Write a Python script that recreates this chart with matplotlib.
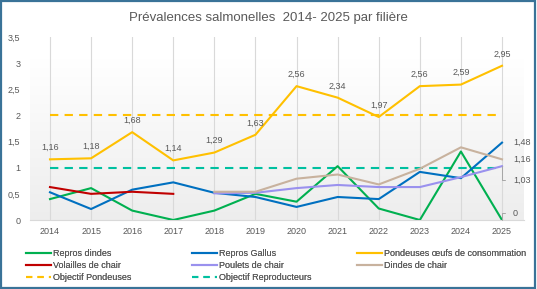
import numpy as np
import matplotlib
matplotlib.use("Agg")
import matplotlib.pyplot as plt
from matplotlib.lines import Line2D

plt.rcParams['font.family'] = ['Liberation Sans', 'DejaVu Sans']

years = [2014, 2015, 2016, 2017, 2018, 2019, 2020, 2021, 2022, 2023, 2024, 2025]
repros_dindes = [0.40, 0.61, 0.18, 0.0, 0.18, 0.50, 0.35, 1.03, 0.22, 0.0, 1.31, 0.0]
repros_gallus = [0.53, 0.21, 0.58, 0.72, 0.52, 0.44, 0.25, 0.44, 0.40, 0.92, 0.80, 1.48]
pondeuses = [1.16, 1.18, 1.68, 1.14, 1.29, 1.63, 2.56, 2.34, 1.97, 2.56, 2.59, 2.95]
volailles_years = [2014, 2015, 2016, 2017]
volailles = [0.63, 0.50, 0.54, 0.50]
poulets_years = [2018, 2019, 2020, 2021, 2022, 2023, 2024, 2025]
poulets = [0.51, 0.52, 0.61, 0.67, 0.63, 0.63, 0.82, 1.03]
dindes_years = [2018, 2019, 2020, 2021, 2022, 2023, 2024, 2025]
dindes_chair = [0.54, 0.54, 0.79, 0.87, 0.68, 0.98, 1.39, 1.16]
objectif_pondeuses = 2.0
objectif_repro = 1.0
yticks = [0, 0.5, 1, 1.5, 2, 2.5, 3, 3.5]

def fr(v):
    return ('%.2f' % v).replace('.', ',')

C_GREEN = '#00b050'
C_BLUE = '#0070c0'
C_YELLOW = '#ffc000'
C_RED = '#c00000'
C_PURPLE = '#9a91ee'
C_BROWN = '#c8b29e'
C_TEAL = '#00c0a0'
TXT = '#595959'

fig = plt.figure(figsize=(5.37, 2.89), dpi=100)
fig.patch.set_facecolor('white')
ax = fig.add_axes([30/537, 1-220/289, (524-30)/537, (220-37)/289])

x0 = 2014 - 20/41.1
x1 = 2025 + 22/41.1
ax.set_xlim(x0, x1)
ax.set_ylim(0, 3.5)

# soft vertical gradient: white at top, light grey at bottom
t = np.linspace(0, 1, 256).reshape(-1, 1)
t = np.clip((t - 0.12) / 0.88, 0, 1)
v = 1.0 - 0.07 * t
img = np.repeat(v[:, :, None], 3, axis=2)
ax.imshow(img, extent=[x0, x1, 0, 3.5], aspect='auto', zorder=0, origin='upper')

for y in years:
    ax.axvline(y, color='#d9d9d9', lw=0.8, zorder=1)

lw = 1.5
ax.plot(years, repros_dindes, color=C_GREEN, lw=lw, zorder=3)
ax.plot(years, repros_gallus, color=C_BLUE, lw=lw, zorder=3)
ax.plot(years, pondeuses, color=C_YELLOW, lw=lw, zorder=3)
ax.plot(volailles_years, volailles, color=C_RED, lw=lw, zorder=3)
ax.plot(poulets_years, poulets, color=C_PURPLE, lw=lw, zorder=3)
ax.plot(dindes_years, dindes_chair, color=C_BROWN, lw=lw, zorder=3)
ax.plot([years[0], years[-1]], [objectif_pondeuses]*2, color=C_YELLOW, lw=lw, ls=(0, (4, 3)), zorder=2)
ax.plot([years[0], years[-1]], [objectif_repro]*2, color=C_TEAL, lw=lw, ls=(0, (4, 3)), zorder=2)

for x, v in zip(years, pondeuses):
    ax.annotate(fr(v), (x, v), xytext=(0, 8.5), textcoords='offset points',
                ha='center', va='center', fontsize=6.5, color=TXT, zorder=5)

ax.annotate(fr(repros_gallus[-1]), (years[-1], repros_gallus[-1]), xytext=(8, 0.5),
            textcoords='offset points', ha='left', va='center', fontsize=6.5, color=TXT)
ax.annotate(fr(dindes_chair[-1]), (years[-1], dindes_chair[-1]), xytext=(8, 0),
            textcoords='offset points', ha='left', va='center', fontsize=6.5, color=TXT)
ax.annotate(fr(poulets[-1]), (years[-1], poulets[-1]), xytext=(8, -10),
            textcoords='offset points', ha='left', va='center', fontsize=6.5, color=TXT,
            arrowprops=dict(arrowstyle='-', color='#a6a6a6', lw=0.7, shrinkA=4, shrinkB=0,
                            connectionstyle='angle,angleA=0,angleB=90,rad=0',
                            relpos=(0, 0.5)))
ax.annotate('0', (years[-1], repros_dindes[-1]), xytext=(8, 5),
            textcoords='offset points', ha='left', va='center', fontsize=6.5, color=TXT,
            arrowprops=dict(arrowstyle='-', color='#a6a6a6', lw=0.7, shrinkA=4, shrinkB=0,
                            connectionstyle='angle,angleA=0,angleB=90,rad=0',
                            relpos=(0, 0.5)))

ax.set_xticks(years)
ax.set_xticklabels([str(y) for y in years])
ax.set_yticks(yticks)
ax.set_yticklabels([('%g' % t).replace('.', ',') for t in yticks])
ax.tick_params(axis='x', length=0, labelsize=6.5, labelcolor=TXT, pad=5)
ax.tick_params(axis='y', length=0, labelsize=6.5, labelcolor=TXT, pad=7)
for s in ['top', 'right', 'left']:
    ax.spines[s].set_visible(False)
ax.spines['bottom'].set_color('#d9d9d9')
ax.spines['bottom'].set_linewidth(0.8)

fig.text(268/537, 1-18/289, 'Prévalences salmonelles  2014- 2025 par filière',
         ha='center', va='center', fontsize=9.5, color=TXT)

def h(color, ls='-'):
    if ls == '-':
        return Line2D([], [], color=color, lw=1.5)
    return Line2D([], [], color=color, lw=1.5, ls=(0, (3, 2.5)))

cols = [
    (26, [(h(C_GREEN), 'Repros dindes'), (h(C_RED), 'Volailles de chair'), (h(C_YELLOW, '--'), 'Objectif Pondeuses')]),
    (192, [(h(C_BLUE), 'Repros Gallus'), (h(C_PURPLE), 'Poulets de chair'), (h(C_TEAL, '--'), 'Objectif Reproducteurs')]),
    (357, [(h(C_YELLOW), 'Pondeuses œufs de consommation'), (h(C_BROWN), 'Dindes de chair')]),
]
for xpx, items in cols:
    leg = fig.legend([i[0] for i in items], [i[1] for i in items],
                     loc='upper left', bbox_to_anchor=(xpx/537, 1-249/289),
                     frameon=False, fontsize=6.5, handlelength=2.8, handletextpad=0.2,
                     labelspacing=0.33, borderaxespad=0, borderpad=0)
    for tt in leg.get_texts():
        tt.set_color(TXT)
    fig.add_artist(leg)

border = plt.Rectangle((0.002, 0.003), 0.994, 0.994, transform=fig.transFigure,
                       fill=False, edgecolor='#3a7398', lw=1.6)
fig.add_artist(border)

fig.savefig('out.png', dpi=100)
